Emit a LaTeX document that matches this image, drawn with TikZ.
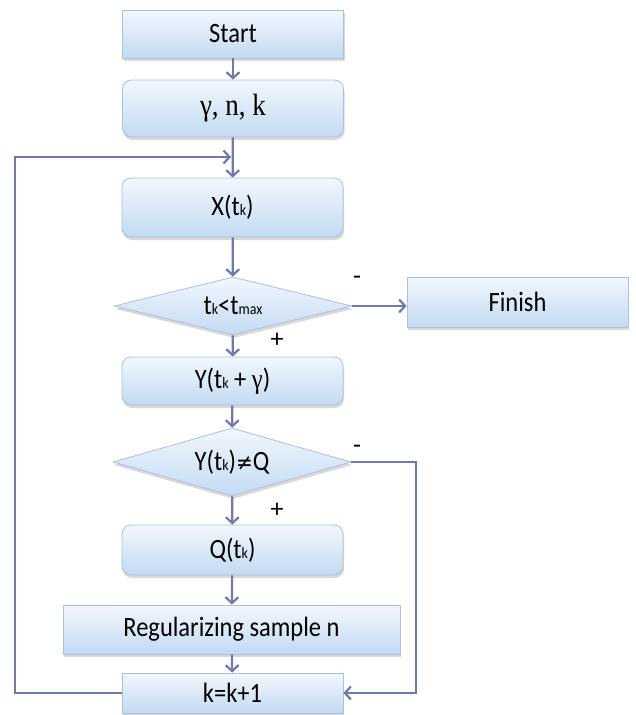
\documentclass[tikz,border=0pt]{standalone}
\usepackage{fontspec}
\usepackage{graphicx}
\setmainfont{Carlito}
\newfontfamily\serifgk{Liberation Serif}
\newfontfamily\symf{DejaVu Sans}
\usetikzlibrary{shapes.geometric,arrows.meta,shadows,calc}
\definecolor{arrowc}{HTML}{6E7BAA}
\definecolor{boxline}{HTML}{A9C1DE}
\definecolor{boxtop}{HTML}{F2F7FD}
\definecolor{boxbot}{HTML}{C3DAF2}
\newcommand{\sbk}[1]{{\fontsize{14}{14}\selectfont #1}}
\newcommand{\vs}[1]{\scalebox{1}[1.14]{#1}}
\tikzset{
  box/.style={draw=boxline, line width=0.8pt, top color=boxtop, bottom color=boxbot,
    minimum width=221pt, inner sep=0pt, font=\fontsize{24.5}{28}\selectfont,
    drop shadow={shadow xshift=1pt, shadow yshift=-3pt, opacity=0.25, fill=black!60}},
  rbox/.style={box, rounded corners=9pt},
  dia/.style={box, diamond, aspect=4, minimum width=238pt},
  flow/.style={draw=arrowc, line width=2.2pt, -{Straight Barb[length=6pt,width=13pt,line width=2.2pt]}},
  lbl/.style={font=\fontsize{26}{26}\selectfont, inner sep=0pt}
}
\begin{document}
\begin{tikzpicture}[x=1pt,y=-1pt]
\useasboundingbox (0,0) rectangle (635,715);
\node[box, minimum height=48pt] (start) at (233,34) {\vs{Start}};
\node[rbox, minimum height=57pt] (params) at (233,108.5) {\vs{\serifgk\fontsize{27}{30}\selectfont γ, n, k}};
\node[rbox, minimum height=59pt] (x) at (232.5,207.5) {\vs{X(t\sbk{k})}};
\node[dia, minimum height=58pt] (d1) at (233,306) {\vs{t\sbk{k}<t\sbk{max}}};
\node[box, minimum height=50pt] (finish) at (517.5,302) {\vs{Finish}};
\node[rbox, minimum height=48pt] (y) at (232.5,381) {\vs{Y(t\sbk{k} + {\serifgk γ})}};
\node[dia, minimum height=68pt] (d2) at (232,462) {\vs{Y(t\sbk{k}){\symf\fontsize{20}{20}\selectfont ≠}Q}};
\node[rbox, minimum height=50pt] (q) at (232.5,550) {\vs{Q(t\sbk{k})}};
\node[box, minimum width=337pt, minimum height=49pt] (reg) at (231.5,629.5) {\vs{Regularizing sample n}};
\node[box, minimum height=40pt] (kk) at (232.5,693) {\vs{k=k+1}};

\coordinate (join) at (233,157);
\coordinate (ll) at (15,693);
\coordinate (lt) at (15,157);
\coordinate (rr) at (416,462);
\coordinate (rb) at (416,693);

\draw[flow] (start) -- (params);
\draw[flow] (params) -- (x);
\draw[flow] (x) -- (d1);
\draw[flow] (d1.east) -- (d1.east -| finish.west);
\draw[flow] (d1) -- (y);
\draw[flow] (y) -- (d2);
\draw[flow] (d2) -- (q);
\draw[flow] (q) -- (reg);
\draw[flow] (reg) -- (kk);
\draw[flow] (kk.west) -- (ll) -- (lt) -- ($(join)+(-2,0)$);
\draw[flow] (d2.east) -- (rr) -- (rb) -- (kk.east);

\node[lbl] (m1) at (357,280) {-};
\node[lbl] (p1) at (277,340) {+};
\node[lbl] (m2) at (357,449) {-};
\node[lbl] (p2) at (277,510) {+};
\end{tikzpicture}
\end{document}
